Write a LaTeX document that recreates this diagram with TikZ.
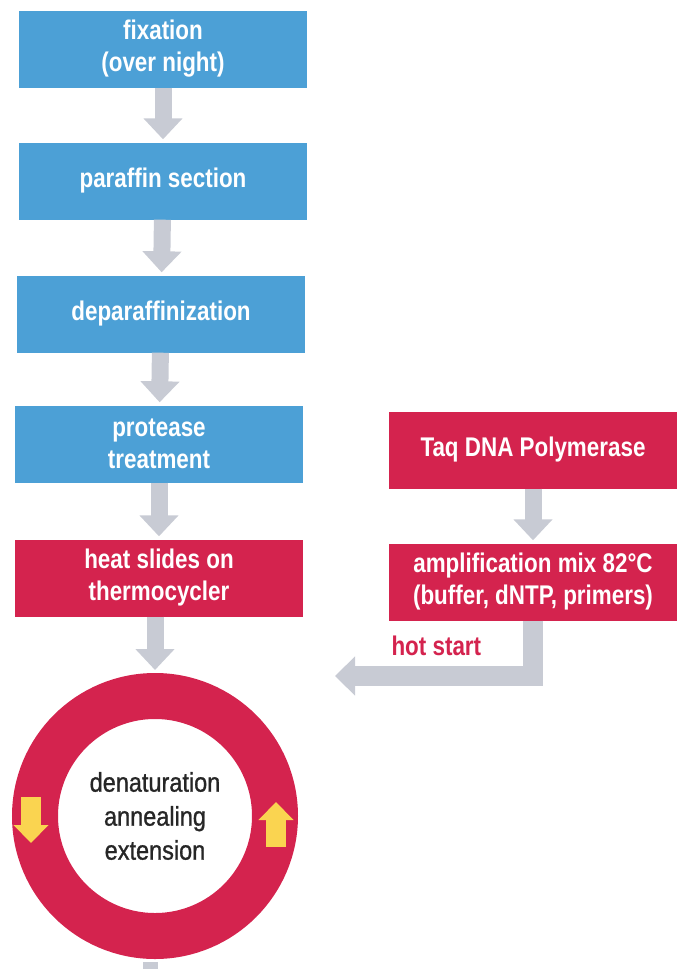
\documentclass[tikz,border=0pt]{standalone}
\usepackage{xcolor}
\usepackage{fontspec}
\setmainfont{Liberation Sans}
\newfontfamily\narrowfont{Liberation Sans}[FakeStretch=0.83]
\newfontfamily\ringfont{Liberation Sans}[FakeStretch=0.87,FakeBold=1]
\usetikzlibrary{arrows.meta}

\definecolor{stepblue}{RGB}{76,160,214}
\definecolor{stepred}{RGB}{212,35,78}
\definecolor{flowgrey}{RGB}{200,203,212}
\definecolor{turnyellow}{RGB}{250,212,80}

\begin{document}
\begin{tikzpicture}[x=1pt,y=-1pt,
  bluebox/.style={fill=stepblue, text=white, align=center, inner sep=0pt,
    minimum width=288pt, minimum height=77pt,
    font=\narrowfont\bfseries\fontsize{27}{32}\selectfont},
  redbox/.style={bluebox, fill=stepred},
  flow/.style={draw=flowgrey, line width=17pt, shorten >=3pt,
    -{Triangle[length=21pt,width=38pt]}},
  turn/.style={draw=turnyellow, line width=20pt,
    -{Triangle[length=18pt,width=34pt]}}]

  % Page frame
  \clip (0,0) rectangle (677,969);

  % Tissue preparation (left column)
  \node[bluebox] (fix) at (163,49) {fixation\\(over night)};
  \node[bluebox] (section) at (163,181) {paraffin section};
  \node[bluebox] (deparaffin) at (161,314) {deparaffinization};
  \node[bluebox] (protease) at (159,444) {protease\\treatment};
  \node[redbox] (heat) at (159,578) {heat slides on\\thermocycler};

  % Reaction mix (right column)
  \node[redbox] (taq) at (533,450) {Taq DNA Polymerase};
  \node[redbox] (mix) at (533,582) {amplification mix 82\textdegree C\\(buffer, dNTP, primers)};

  % PCR cycle ring
  \node[circle, draw=stepred, line width=46pt, minimum size=240pt,
    inner sep=0pt, outer sep=23pt, align=center, text=black!85,
    font=\ringfont\fontsize{27}{34}\selectfont] (cycle) at (155,816)
    {denaturation\\annealing\\extension};

  % Arrows down the left column
  \draw[flow] (fix) -- (section);
  \draw[flow] (section) -- (deparaffin);
  \draw[flow] (deparaffin) -- (protease);
  \draw[flow] (protease) -- (heat);
  \draw[flow] (heat.south -| cycle.north) -- (cycle.north);
  \draw[draw=flowgrey, line width=15pt] ([xshift=-5pt,yshift=-3pt]cycle.south) -- ++(0,20);

  % Arrows on the right
  \draw[flow] (taq) -- (mix);
  \coordinate (hotend) at (335,676);
  \draw[flow, line width=20pt, shorten >=0pt,
    -{Triangle[length=20pt,width=38pt]}] (mix.south) |- (hotend);
  \node[text=stepred, anchor=base west,
    font=\narrowfont\bfseries\fontsize{27}{32}\selectfont] (hot) at (388,655) {hot start};

  % Cycle direction
  \draw[turn] (31,797) -- (31,843);
  \draw[turn] (276,847) -- (276,802);
\end{tikzpicture}
\end{document}
